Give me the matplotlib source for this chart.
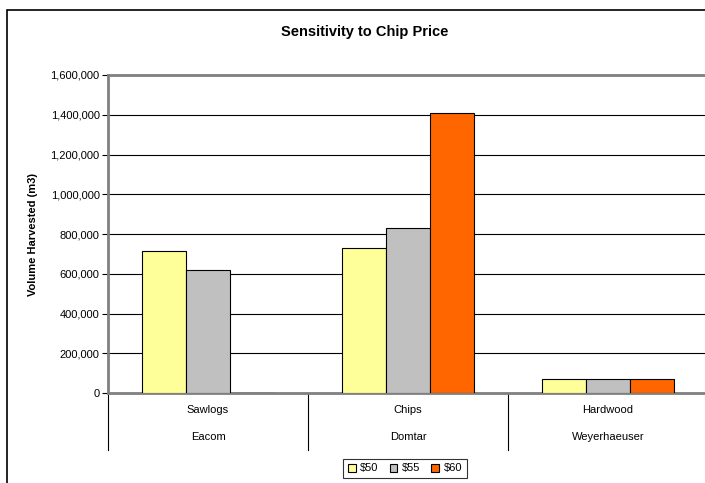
import matplotlib.pyplot as plt
import numpy as np
from matplotlib.patches import Rectangle
from matplotlib.ticker import FuncFormatter

plt.rcParams["font.family"] = ["Liberation Sans", "DejaVu Sans"]

products = ["Sawlogs", "Chips", "Hardwood"]
companies = ["Eacom", "Domtar", "Weyerhaeuser"]
price_labels = ["$50", "$55", "$60"]
vol_50 = [713000, 730000, 72000]
vol_55 = [620000, 828000, 72000]
vol_60 = [0, 1408000, 72000]
colors = ["#FFFF99", "#C0C0C0", "#FF6600"]

W, H = 705, 483
fig = plt.figure(figsize=(W / 100, H / 100), dpi=100)

# outer chart frame, runs off the right and bottom edges
fig.patches.append(Rectangle((7 / W, -0.5), 2.0, 1.5 - 10 / H, transform=fig.transFigure,
                             fill=False, edgecolor="black", linewidth=1.2))

ax = fig.add_axes([108 / W, (H - 393) / H, 600 / W, 318 / H])
x = np.arange(len(products))
bar_w = 0.22
for i, vals in enumerate([vol_50, vol_55, vol_60]):
    ax.bar(x + (i - 1) * bar_w, vals, width=bar_w, color=colors[i],
           edgecolor="black", linewidth=0.8, label=price_labels[i].replace("$", r"\$"),
           zorder=3)

ax.set_xlim(-0.5, 2.5)
ax.set_ylim(0, 1600000)
ax.set_yticks(np.arange(0, 1600001, 200000))
ax.yaxis.set_major_formatter(FuncFormatter(lambda v, p: f"{int(v):,}"))
ax.tick_params(axis="y", labelsize=8, length=4, width=0.8, pad=2)
ax.set_xticks([])
ax.grid(axis="y", color="black", linewidth=0.8, zorder=0)

for side in ["left", "top", "bottom"]:
    ax.spines[side].set_color("#808080")
    ax.spines[side].set_linewidth(2)
ax.spines["right"].set_visible(False)

# two-level category axis
trans = ax.get_xaxis_transform()
for d in np.arange(-0.5, 3.0, 1.0):
    ax.plot([d, d], [0, -0.179], transform=trans, color="black",
            linewidth=0.8, clip_on=False)
for xi, prod, comp in zip(x, products, companies):
    ax.text(xi, -0.0535, prod, transform=trans, ha="center", va="center", fontsize=8)
    ax.text(xi, -0.138, comp, transform=trans, ha="center", va="center", fontsize=8)

fig.text(365 / W, 1 - 32 / H, "Sensitivity to Chip Price", ha="center", va="center",
         fontsize=10.5, fontweight="bold")
fig.text(33 / W, (H - 234) / H, "Volume Harvested (m3)", rotation=90,
         ha="center", va="center", fontsize=8, fontweight="bold")

leg = fig.legend(loc="center", bbox_to_anchor=(405 / W, (H - 468.5) / H), ncol=3,
                 fontsize=8, frameon=True, fancybox=False, handlelength=0.7,
                 handleheight=0.7, handletextpad=0.4, columnspacing=1.0,
                 borderpad=0.4)
leg.get_frame().set_edgecolor("black")
leg.get_frame().set_linewidth(0.8)

fig.savefig("out.png", dpi=100)
